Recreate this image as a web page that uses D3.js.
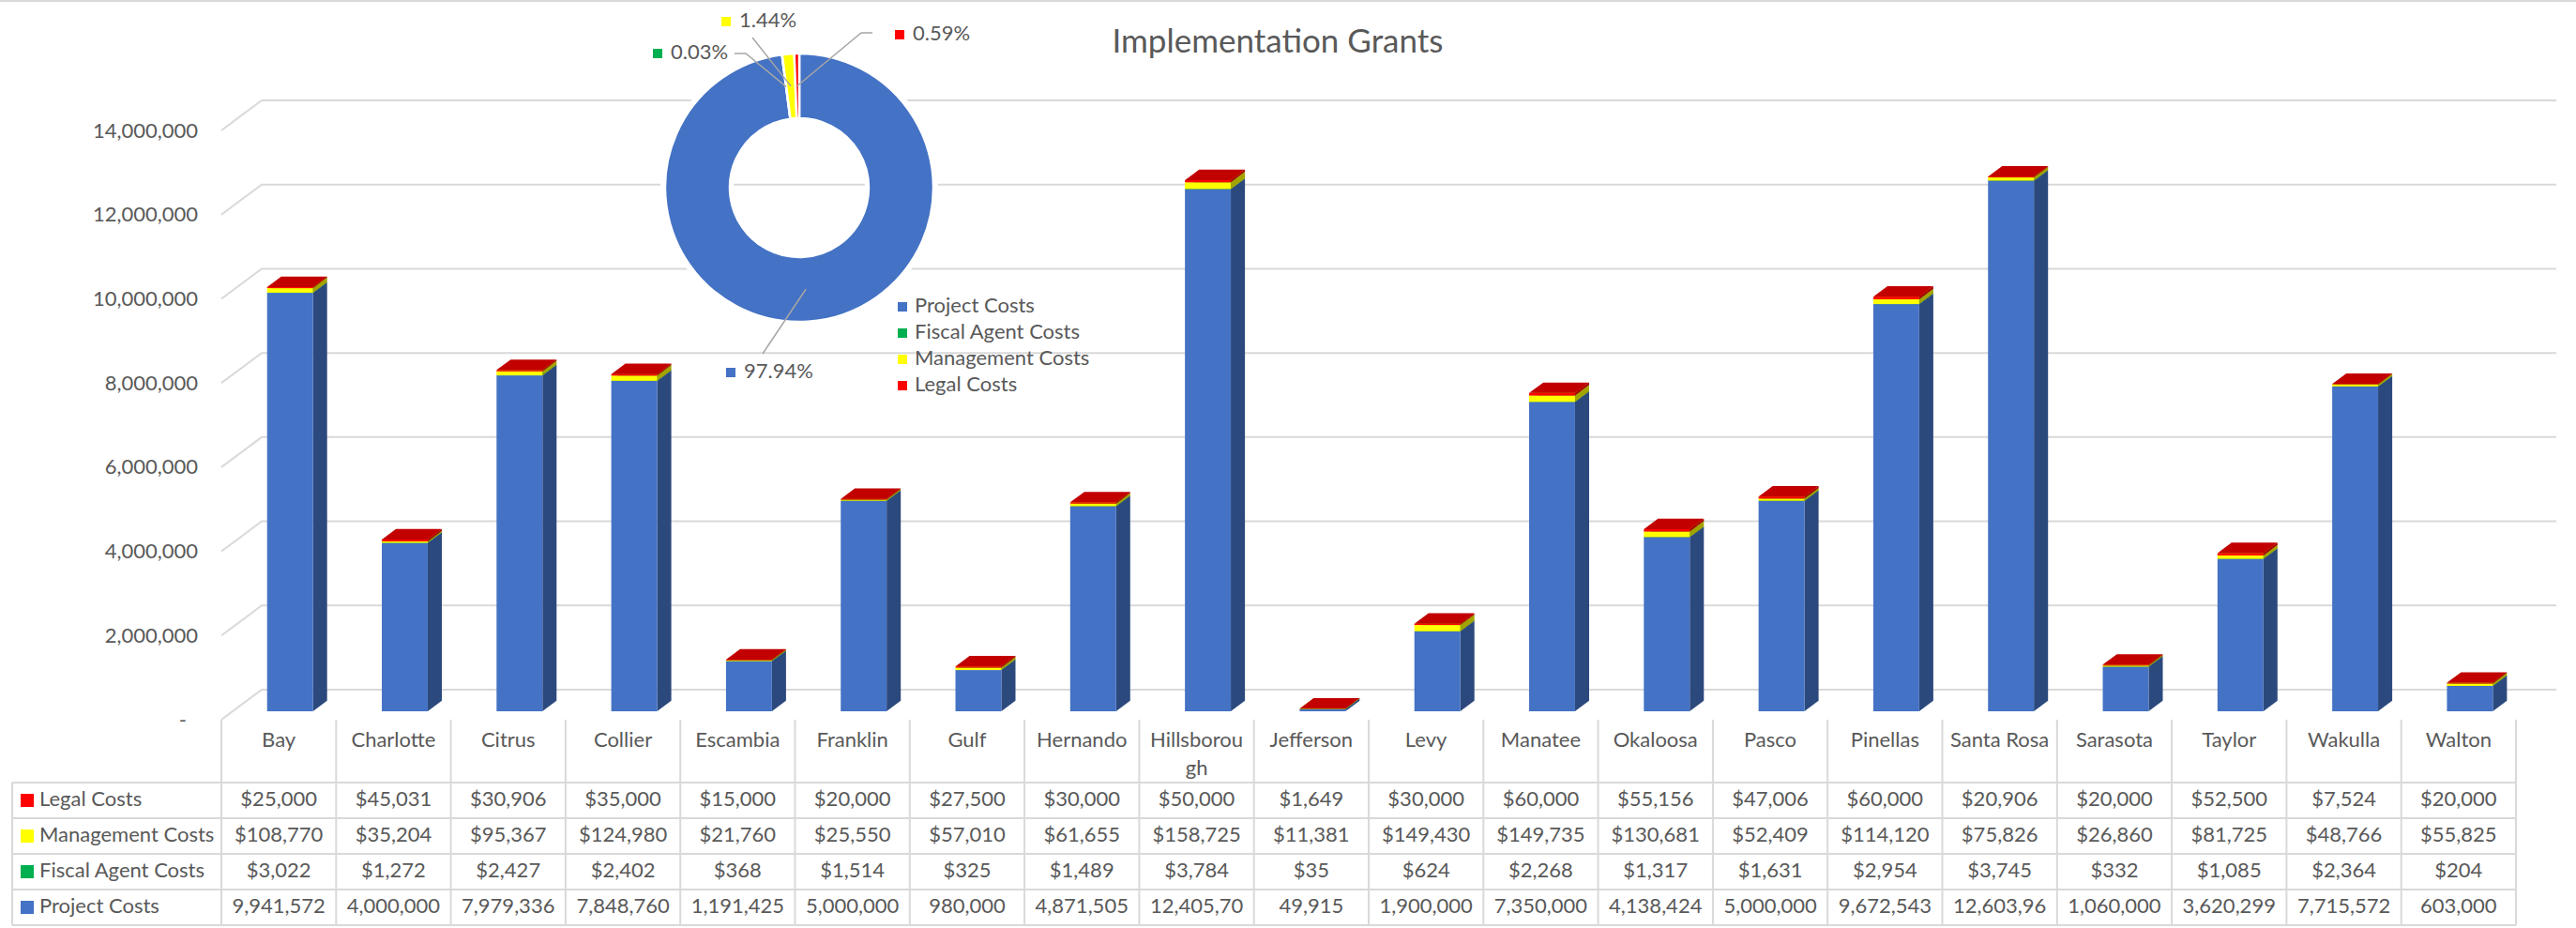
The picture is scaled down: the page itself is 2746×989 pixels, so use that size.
<!DOCTYPE html>
<html>
<head>
<meta charset="utf-8">
<script src="https://cdn.jsdelivr.net/npm/d3@7"></script>
<style>
  body { margin: 0; background: #fff; }
  svg text { font-family: Lato, "Open Sans", sans-serif; fill: #595959; }
</style>
</head>
<body>
<div id="chart"></div>
<script>
// data
const counties = ["Bay", "Charlotte", "Citrus", "Collier", "Escambia", "Franklin", "Gulf", "Hernando",
  "Hillsborough", "Jefferson", "Levy", "Manatee", "Okaloosa", "Pasco", "Pinellas", "Santa Rosa",
  "Sarasota", "Taylor", "Wakulla", "Walton"];
const legalCosts = [25000, 45031, 30906, 35000, 15000, 20000, 27500, 30000, 50000, 1649,
  30000, 60000, 55156, 47006, 60000, 20906, 20000, 52500, 7524, 20000];
const managementCosts = [108770, 35204, 95367, 124980, 21760, 25550, 57010, 61655, 158725, 11381,
  149430, 149735, 130681, 52409, 114120, 75826, 26860, 81725, 48766, 55825];
const fiscalAgentCosts = [3022, 1272, 2427, 2402, 368, 1514, 325, 1489, 3784, 35,
  624, 2268, 1317, 1631, 2954, 3745, 332, 1085, 2364, 204];
const projectCosts = [9941572, 4000000, 7979336, 7848760, 1191425, 5000000, 980000, 4871505, 12405700, 49915,
  1900000, 7350000, 4138424, 5000000, 9672543, 12603960, 1060000, 3620299, 7715572, 603000];
const yTicks = [0, 2000000, 4000000, 6000000, 8000000, 10000000, 12000000, 14000000];

const seriesNames = ["Project Costs", "Fiscal Agent Costs", "Management Costs", "Legal Costs"];
const seriesValues = [projectCosts, fiscalAgentCosts, managementCosts, legalCosts];
const seriesColors = ["#4472C4", "#00B050", "#FFFF00", "#FF0000"];

const width = 2746, height = 989;
const depth = { dx: -43, dy: 32 };      // back wall -> front edge of floor
const barFront = 0.72, barBack = 0.37;  // where the boxes sit in the depth

const svg = d3.select("#chart").append("svg")
  .attr("width", width).attr("height", height);

svg.append("line")
  .attr("x1", 0).attr("x2", width).attr("y1", 1).attr("y2", 1)
  .attr("stroke", "#D9D9D9").attr("stroke-width", 2);

// scales (back wall)
const x = d3.scaleBand().domain(counties).range([279, 2725]).paddingInner(0.6).paddingOuter(0.3);
const y = d3.scaleLinear().domain([0, 14000000]).range([735, 107]);
const yFront = d3.scaleLinear().domain(y.domain()).range(y.range().map(v => v + depth.dy));
const col = d3.scaleBand().domain(counties).range([279 + depth.dx, 2725 + depth.dx]);

// gridlines on back + side wall
svg.append("g").selectAll("polyline")
  .data(yTicks).enter().append("polyline")
  .attr("points", d => [[279 + depth.dx, yFront(d)], [279, y(d)], [2725, y(d)]].join(" "))
  .attr("fill", "none").attr("stroke", "#D9D9D9").attr("stroke-width", 2);

// y axis labels
svg.append("g")
  .attr("transform", `translate(${279 + depth.dx - 22},0)`)
  .call(d3.axisLeft(yFront).tickValues(yTicks).tickSize(0)
    .tickFormat(d => d === 0 ? "-" : d3.format(",")(d)))
  .call(g => g.select(".domain").remove())
  .call(g => g.selectAll("text")
    .attr("font-size", 22).attr("dx", d => d === 0 ? -12 : 0)
    .style("font-family", "Lato").style("fill", "#595959"));

// stacked 3D columns
const rows = counties.map((c, i) => {
  const r = { county: c };
  seriesNames.forEach((s, k) => r[s] = seriesValues[k][i]);
  return r;
});
const stacked = d3.stack().keys(seriesNames)(rows);

function shade(c, k) {
  const r = d3.rgb(c);
  return d3.rgb(r.r * k, r.g * k, r.b * k).formatHex();
}

const fx = depth.dx * barFront, fy = depth.dy * barFront;
const bx = depth.dx * barBack, by = depth.dy * barBack;
const w = x.bandwidth();

const bars = svg.append("g");
stacked.forEach((layer, k) => {
  const color = seriesColors[k];
  layer.forEach((seg, i) => {
    const x0 = x(counties[i]);
    const top = y(seg[1]), bot = y(seg[0]);
    const g = bars.append("g");
    g.append("polygon")
      .attr("points", [[x0 + fx + w, top + fy], [x0 + bx + w, top + by], [x0 + bx + w, bot + by], [x0 + fx + w, bot + fy]].join(" "))
      .attr("fill", shade(color, 0.64));
    g.append("rect")
      .attr("x", x0 + fx).attr("y", top + fy)
      .attr("width", w).attr("height", Math.max(0, bot - top))
      .attr("fill", color);
    g.append("polygon")
      .attr("points", [[x0 + fx, top + fy], [x0 + fx + w, top + fy], [x0 + bx + w, top + by], [x0 + bx, top + by]].join(" "))
      .attr("fill", shade(color, 0.76));
  });
});

// data table
const tableTop = 767, rowTop = 834, rowH = 38, tableLeft = 13;
const tableRows = [3, 2, 1, 0]; // Legal, Management, Fiscal, Project
const lineColor = "#D9D9D9";
const table = svg.append("g");
const colEdges = counties.map(c => col(c)).concat([col.range()[1]]);

table.selectAll(".vline").data(colEdges).enter().append("line")
  .attr("x1", d => d).attr("x2", d => d)
  .attr("y1", tableTop).attr("y2", rowTop + rowH * 4)
  .attr("stroke", lineColor).attr("stroke-width", 2);
table.append("line")
  .attr("x1", tableLeft).attr("x2", tableLeft)
  .attr("y1", rowTop).attr("y2", rowTop + rowH * 4)
  .attr("stroke", lineColor).attr("stroke-width", 2);
table.selectAll(".hline").data(d3.range(5)).enter().append("line")
  .attr("x1", tableLeft).attr("x2", col.range()[1])
  .attr("y1", d => rowTop + d * rowH).attr("y2", d => rowTop + d * rowH)
  .attr("stroke", lineColor).attr("stroke-width", 2);

// category names, wrapped like Excel when too wide
counties.forEach(c => {
  const cx = col(c) + col.bandwidth() / 2;
  const t = table.append("text").attr("x", cx).attr("y", 790)
    .attr("text-anchor", "middle").attr("dominant-baseline", "middle")
    .attr("font-size", 22).text(c);
  const limit = col.bandwidth() - 16;
  if (t.node().getComputedTextLength() > limit) {
    let n = c.length;
    while (n > 1) {
      t.text(c.slice(0, n));
      if (t.node().getComputedTextLength() <= limit) break;
      n--;
    }
    table.append("text").attr("x", cx).attr("y", 820)
      .attr("text-anchor", "middle").attr("dominant-baseline", "middle")
      .attr("font-size", 22).text(c.slice(n));
  }
});

const money = d3.format("$,");
const plain = d3.format(",");
tableRows.forEach((k, r) => {
  const cy = rowTop + r * rowH + rowH / 2;
  table.append("rect")
    .attr("x", 22).attr("y", cy - 7).attr("width", 14).attr("height", 14)
    .attr("fill", seriesColors[k]);
  table.append("text").attr("x", 42).attr("y", cy)
    .attr("dominant-baseline", "middle").attr("font-size", 22)
    .text(seriesNames[k]);
  seriesValues[k].forEach((v, i) => {
    const s = k === 0 ? plain(v) : money(v);
    const t = table.append("text")
      .attr("x", col(counties[i]) + col.bandwidth() / 2).attr("y", cy)
      .attr("text-anchor", "middle").attr("dominant-baseline", "middle")
      .attr("font-size", 22).text(s);
    // Excel clips numbers that do not fit the cell
    const limit = col.bandwidth() - 18;
    let n = s.length;
    while (t.node().getComputedTextLength() > limit && n > 1) {
      n--;
      t.text(s.slice(0, n));
    }
  });
});

// title
svg.append("text")
  .attr("x", 1362).attr("y", 47)
  .attr("text-anchor", "middle").attr("dominant-baseline", "middle")
  .attr("font-size", 35)
  .text("Implementation Grants");

// doughnut of totals
const pieCx = 852, pieCy = 200, rOuter = 143, rInner = 74;
const totals = seriesNames.map((n, k) => ({ name: n, value: d3.sum(seriesValues[k]), color: seriesColors[k] }));
const pie = d3.pie().sort(null).value(d => d.value);
const arc = d3.arc().innerRadius(rInner).outerRadius(rOuter);
const arcs = pie(totals);
const grand = d3.sum(totals, d => d.value);

const donut = svg.append("g").attr("transform", `translate(${pieCx},${pieCy})`);
donut.append("path")
  .attr("d", d3.arc().innerRadius(rInner - 4).outerRadius(rOuter + 5).startAngle(0).endAngle(2 * Math.PI)())
  .attr("fill", "#fff");
donut.selectAll(".slice").data(arcs).enter().append("path")
  .attr("d", arc)
  .attr("fill", d => d.data.color)
  .attr("stroke", "#fff").attr("stroke-width", 2.5);

// label placement relative to centre (Project, Fiscal, Management, Legal)
const labelLayout = [
  { tx: -59, ty: 197, path: [[-39, 177]] },
  { tx: -137, ty: -143, path: [[-57, -143], [-69, -143]] },
  { tx: -64, ty: -177, path: [[-50, -160]] },
  { tx: 121, ty: -163, path: [[66, -165], [78, -165]] }
];
const pct = d3.format(".2%");
arcs.forEach((a, i) => {
  const L = labelLayout[i];
  const pts = [arc.centroid(a)].concat(L.path);
  donut.append("polyline")
    .attr("points", pts.join(" "))
    .attr("fill", "none").attr("stroke", "#A6A6A6").attr("stroke-width", 1.5);
  donut.append("rect")
    .attr("x", L.tx - 19).attr("y", L.ty - 5).attr("width", 10).attr("height", 10)
    .attr("fill", a.data.color);
  donut.append("text")
    .attr("x", L.tx).attr("y", L.ty)
    .attr("dominant-baseline", "middle").attr("font-size", 22)
    .text(pct(a.data.value / grand));
});

// legend of the doughnut
const legend = donut.append("g").attr("transform", "translate(105,127)");
totals.forEach((d, i) => {
  legend.append("rect")
    .attr("x", 0).attr("y", i * 28 - 5).attr("width", 10).attr("height", 10)
    .attr("fill", d.color);
  legend.append("text")
    .attr("x", 18).attr("y", i * 28)
    .attr("dominant-baseline", "middle").attr("font-size", 22)
    .text(d.name);
});
</script>
</body>
</html>
